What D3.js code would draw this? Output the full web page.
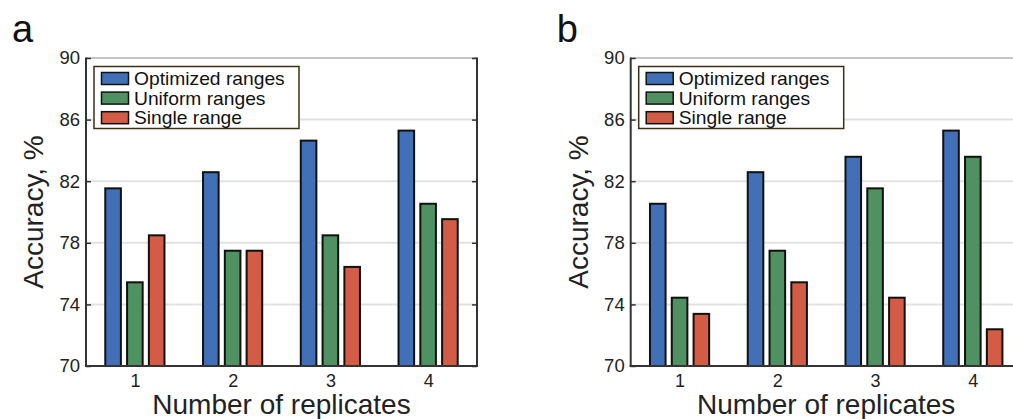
<!DOCTYPE html>
<html>
<head>
<meta charset="utf-8">
<script src="https://cdn.jsdelivr.net/npm/d3@7"></script>
<style>
  html, body { margin: 0; padding: 0; background: #fff; }
  svg { display: block; font-family: "Liberation Sans", Arial, sans-serif; }
</style>
</head>
<body>
<svg id="chart" width="1013" height="419"></svg>
<script>
// ---------- data ----------
const categories = ["1", "2", "3", "4"];
const seriesNames = ["Optimized ranges", "Uniform ranges", "Single range"];
const seriesColors = ["#4170b8", "#4f9160", "#d25c46"];
const yTicks = [70, 74, 78, 82, 86, 90];
const panelLabels = ["a", "b"];

// panel a
const aOptimized = [81.6, 82.65, 84.7, 85.35];
const aUniform   = [75.5, 77.55, 78.55, 80.6];
const aSingle    = [78.55, 77.55, 76.5, 79.6];
// panel b
const bOptimized = [80.6, 82.65, 83.65, 85.35];
const bUniform   = [74.5, 77.55, 81.6, 83.65];
const bSingle    = [73.45, 75.5, 74.5, 72.45];

// ---------- layout ----------
const svg = d3.select("#chart");
svg.append("rect").attr("width", 1013).attr("height", 419).attr("fill", "#fff");

const plotW = 391, plotTop = 58, plotBottom = 366;
const panelLefts = [86, 630.7];

function drawPanel(left, label, seriesArrays) {
  const g = svg.append("g");
  const x = d3.scaleLinear().domain([0.5, 4.5]).range([left, left + plotW]);
  const y = d3.scaleLinear().domain([70, 90]).range([plotBottom, plotTop]);
  const sub = d3.scaleBand().domain(seriesNames).range([-0.313, 0.313])
    .paddingInner(0.193).paddingOuter(0);

  // gridlines
  g.append("g").selectAll("line")
    .data(yTicks.filter(t => t > 70 && t < 90))
    .join("line")
    .attr("x1", left).attr("x2", left + plotW)
    .attr("y1", d => y(d)).attr("y2", d => y(d))
    .attr("stroke", "#e2e2e2").attr("stroke-width", 2);

  // top border
  g.append("line")
    .attr("x1", left).attr("x2", left + plotW)
    .attr("y1", plotTop).attr("y2", plotTop)
    .attr("stroke", "#8a8a8a").attr("stroke-width", 1.2);

  // bars
  seriesArrays.forEach((vals, si) => {
    g.append("g").selectAll("rect")
      .data(vals)
      .join("rect")
      .attr("x", (d, i) => x(i + 1 + sub(seriesNames[si])) + 1)
      .attr("width", x(sub.bandwidth()) - x(0) - 2)
      .attr("y", d => y(d) + 1)
      .attr("height", d => y(70) - y(d) - 1)
      .attr("fill", seriesColors[si])
      .attr("stroke", "#111")
      .attr("stroke-width", 2);
  });

  // left axis
  const yAxis = d3.axisLeft(y).tickValues(yTicks).tickSize(-5).tickPadding(6).tickFormat(d3.format("d"));
  const ga = g.append("g").attr("transform", `translate(${left},0)`).call(yAxis);
  ga.select(".domain").remove();
  ga.selectAll(".tick line").attr("stroke", "#333").attr("stroke-width", 1.5);
  ga.selectAll(".tick text").attr("font-size", 18.5).attr("fill", "#222")
    .attr("font-family", "'Liberation Sans', Arial, sans-serif");
  g.append("line").attr("x1", left).attr("x2", left)
    .attr("y1", plotTop - 0.5).attr("y2", plotBottom + 1)
    .attr("stroke", "#333").attr("stroke-width", 2);

  // right border with inward ticks
  const yRight = d3.axisRight(y).tickValues(yTicks).tickSize(-5).tickFormat("");
  const gr = g.append("g").attr("transform", `translate(${left + plotW},0)`).call(yRight);
  gr.select(".domain").remove();
  gr.selectAll(".tick line").attr("stroke", "#333").attr("stroke-width", 1.5);
  g.append("line").attr("x1", left + plotW).attr("x2", left + plotW)
    .attr("y1", plotTop - 0.5).attr("y2", plotBottom + 1)
    .attr("stroke", "#333").attr("stroke-width", 2);

  // bottom axis
  const xAxis = d3.axisBottom(x).tickValues([1, 2, 3, 4])
    .tickFormat(d => categories[d - 1]).tickSize(0).tickPadding(8);
  const gb = g.append("g").attr("transform", `translate(0,${plotBottom})`).call(xAxis);
  gb.select(".domain").remove();
  gb.selectAll(".tick text").attr("font-size", 18).attr("fill", "#222")
    .attr("font-family", "'Liberation Sans', Arial, sans-serif");
  g.append("line").attr("x1", left - 1).attr("x2", left + plotW + 1)
    .attr("y1", plotBottom).attr("y2", plotBottom)
    .attr("stroke", "#333").attr("stroke-width", 2);

  // axis titles
  g.append("text")
    .attr("transform", `translate(${left - 43},${(plotTop + plotBottom) / 2}) rotate(-90)`)
    .attr("text-anchor", "middle").attr("font-size", 28).attr("fill", "#222")
    .text("Accuracy, %");
  g.append("text")
    .attr("x", left + plotW / 2).attr("y", 414)
    .attr("text-anchor", "middle").attr("font-size", 28).attr("fill", "#222")
    .text("Number of replicates");

  // panel label
  g.append("text")
    .attr("x", left - 74).attr("y", 42)
    .attr("font-size", 38).attr("fill", "#111")
    .text(label);

  // legend
  const rowH = 19.6;
  const lg = g.append("g").attr("transform", `translate(${left + 8},66.5)`);
  lg.append("rect").attr("width", 205).attr("height", 62)
    .attr("fill", "#fff").attr("stroke", "#3b3014").attr("stroke-width", 1.5);
  seriesNames.forEach((name, i) => {
    lg.append("rect")
      .attr("x", 7.5).attr("y", 6 + i * rowH)
      .attr("width", 27).attr("height", 12)
      .attr("fill", seriesColors[i]).attr("stroke", "#111").attr("stroke-width", 1.5);
    lg.append("text")
      .attr("transform", `translate(40,${18.5 + i * rowH}) scale(1.1,1)`)
      .attr("font-size", 17.5).attr("fill", "#111")
      .text(name);
  });
}

drawPanel(panelLefts[0], panelLabels[0], [aOptimized, aUniform, aSingle]);
drawPanel(panelLefts[1], panelLabels[1], [bOptimized, bUniform, bSingle]);
</script>
</body>
</html>
